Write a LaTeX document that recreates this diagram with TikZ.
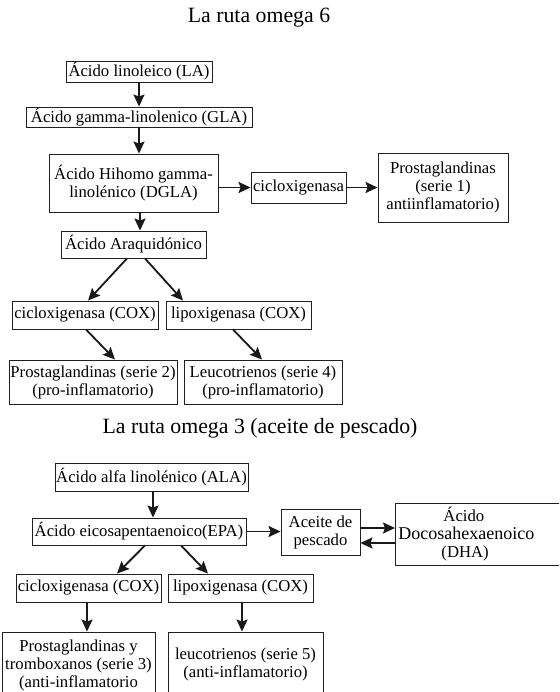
\documentclass[tikz,border=0pt]{standalone}
\usepackage{fontspec}
\setmainfont{Liberation Serif}
\usetikzlibrary{arrows.meta,calc}
\begin{document}
\begin{tikzpicture}[x=1pt,y=-1pt,
 box/.style={draw=black!88,line width=0.9pt,inner sep=0pt,align=center,font=\fontsize{16.7}{18}\selectfont},
 arr/.style={draw=black!90,line width=1.8pt,-{Stealth[length=12pt,width=11pt,inset=2pt]}},
 ttl/.style={font=\fontsize{21.8}{24}\selectfont}]
\clip (0,0) rectangle (559,692);
\useasboundingbox (0,0) rectangle (559,692);
% omega 6
\node[ttl] (t1) at (259,18) {La ruta omega 6};
\node[box,minimum width=146,minimum height=21] (la) at (139,71.5) {Ácido linoleico (LA)};
\node[box,minimum width=226,minimum height=20] (gla) at (139,117) {Ácido gamma-linolenico (GLA)};
\node[box,minimum width=169,minimum height=58] (dgla) at (133.5,183) {Ácido Hihomo gamma-\\linolénico (DGLA)};
\node[box,minimum width=95,minimum height=31] (cic) at (298.5,187.5) {cicloxigenasa};
\node[box,minimum width=130,minimum height=69] (pg1) at (443,187.5) {Prostaglandinas\\(serie 1)\\antiinflamatorio)};
\node[box,minimum width=145,minimum height=27] (araq) at (133.5,244.5) {Ácido Araquidónico};
\node[box,minimum width=146,minimum height=28] (cox1) at (85,315) {cicloxigenasa (COX)};
\node[box,minimum width=145,minimum height=28] (lox1) at (238.5,315) {lipoxigenasa (COX)};
\node[box,minimum width=168,minimum height=44] (pg2) at (93,382) {Prostaglandinas (serie 2)\\(pro-inflamatorio)};
\node[box,minimum width=158,minimum height=44] (lt4) at (263,382) {Leucotrienos (serie 4)\\(pro-inflamatorio)};
% omega 3
\node[ttl] (t2) at (260,428) {La ruta omega 3 (aceite de pescado)};
\node[box,minimum width=193,minimum height=28] (ala) at (151.5,477) {Ácido alfa linolénico (ALA)};
\node[box,minimum width=214,minimum height=27] (epa) at (139,531.5) {Ácido eicosapentaenoico(EPA)};
\node[box,minimum width=79,minimum height=46] (ace) at (320.5,532) {Aceite de\\pescado};
\node[box,anchor=west,inner xsep=3pt,text width=214pt,align=left,minimum height=62] (dha) at (395,534)
  {\hspace*{45pt}Ácido\\{\fontsize{18}{18}\selectfont Docosahexaenoico}\\\hspace*{43pt}(DHA)};
\node[box,minimum width=145,minimum height=28] (cox2) at (88.5,588) {cicloxigenasa (COX)};
\node[box,minimum width=145,minimum height=28] (lox2) at (240.5,588) {lipoxigenasa (COX)};
\node[box,minimum width=153,minimum height=66] (pg3) at (78.5,665) {Prostaglandinas y\\tromboxanos (serie 3)\\(anti-inflamatorio};
\node[box,minimum width=155,minimum height=64] (lt5) at (245.5,664) {leucotrienos (serie 5)\\(anti-inflamatorio)};
% arrows omega 6
\draw[arr] (la.south) -- (gla.north);
\draw[arr] (gla.south) -- (gla.south |- dgla.north);
\draw[arr] ([xshift=6.5pt]dgla.south) -- ([xshift=6.5pt]araq.north);
\draw[arr] (dgla.east |- cic.west) -- (cic.west);
\draw[arr] (cic.east) -- (pg1.west);
\draw[arr] ([xshift=-6.5pt]araq.south) -- ([xshift=3pt]cox1.north);
\draw[arr] ([xshift=11.5pt]araq.south) -- ([xshift=-55.5pt]lox1.north);
\draw[arr] ([xshift=1pt]cox1.south) -- ([xshift=22pt]pg2.north);
\draw[arr] ([xshift=-5.5pt]lox1.south) -- ([xshift=-1pt]lt4.north);
% arrows omega 3
\draw[arr] ([xshift=1.5pt]ala.south) -- ([xshift=1.5pt]ala.south |- epa.north);
\draw[arr] (epa.east) -- (epa.east -| ace.west);
\draw[arr] ([yshift=4pt]ace.east) -- ([yshift=4pt]ace.east -| dha.west);
\draw[arr] ([yshift=-11pt]ace.east -| dha.west) -- ([yshift=-11pt]ace.east);
\draw[arr] ([xshift=6pt]epa.south) -- ([xshift=28.5pt]cox2.north);
\draw[arr] ([xshift=42pt]epa.south) -- ([xshift=-32.5pt]lox2.north);
\draw[arr] ([xshift=-1.5pt]cox2.south) -- ([xshift=-1.5pt]cox2.south |- pg3.north);
\draw[arr] ([xshift=1.5pt]lox2.south) -- ([xshift=1.5pt]lox2.south |- lt5.north);
\end{tikzpicture}
\end{document}
